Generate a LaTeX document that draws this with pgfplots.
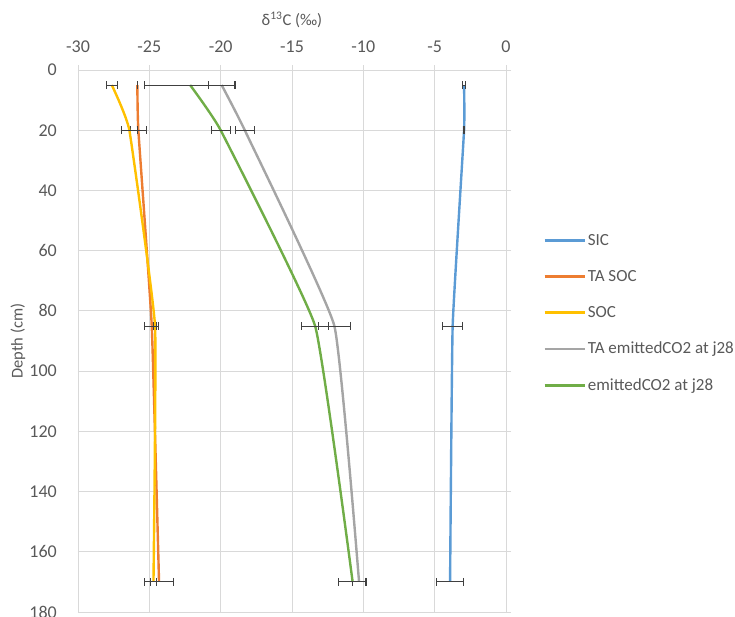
\documentclass[border=0pt]{standalone}
\usepackage{fontspec}
\setmainfont{Carlito}
\usepackage{pgfplots}
\pgfplotsset{compat=1.18}
\definecolor{cSIC}{HTML}{5B9BD5}
\definecolor{cTASOC}{HTML}{ED7D31}
\definecolor{cSOC}{HTML}{FFC000}
\definecolor{cTAE}{HTML}{A5A5A5}
\definecolor{cE}{HTML}{70AD47}
\definecolor{gridc}{HTML}{D9D9D9}
\definecolor{txt}{HTML}{595959}
\begin{document}
\begin{tikzpicture}
\path[use as bounding box] (-78pt,-4pt) rectangle (657pt,612pt);
\begin{axis}[
  scale only axis, width=428pt, height=542pt,
  xmin=-30, xmax=0, ymin=0, ymax=180,
  y dir=reverse,
  xtick={-30,-25,...,0}, ytick={0,20,...,180},
  grid=major, major grid style={gridc, line width=0.8pt},
  axis line style={gridc, line width=0.8pt},
  tick style={gridc, line width=0.8pt},
  major tick length=5pt, tick align=outside,
  xtick pos=top, xticklabel pos=top,
  ytick pos=right, yticklabel pos=left,
  /pgf/number format/assume math mode=true,
  ticklabel style={font=\fontsize{18}{21}\selectfont, text=txt},
  xticklabel style={inner sep=0pt, anchor=south, yshift=12pt},
  yticklabel style={inner sep=0pt, anchor=east, xshift=-16pt},
  xlabel={δ\textsuperscript{13}C (‰)},
  ylabel={Depth (cm)},
  label style={font=\fontsize{16.5}{19}\selectfont, text=txt},
  xlabel style={at={(rel axis cs:0.5,1)}, anchor=center, yshift=50pt},
  ylabel style={at={(rel axis cs:0,0.5)}, anchor=center, rotate=0, yshift=60pt},
  every axis plot/.append style={line width=2.4pt, smooth, tension=0.2},
  error bars/error bar style={black!75, line width=0.9pt, solid},
  error bars/error mark options={black!75, line width=0.9pt, mark size=4pt, rotate=90},
  legend cell align=left,
  legend style={draw=none, fill=none, at={(1.08,0.705)}, anchor=north west,
    font=\fontsize{17}{20}\selectfont, text=txt, row sep=19.5pt,
    /tikz/every even column/.append style={column sep=0pt}},
  legend image code/.code={\draw[#1, line width=2.4pt] (0pt,0pt) -- (40pt,0pt);},
]
\addplot[cSIC, error bars/.cd, x dir=both, x explicit] coordinates {
  (-2.94,5) +- (0.10,0)
  (-2.94,20) +- (0.04,0)
  (-3.74,85) +- (0.70,0)
  (-3.92,170) +- (0.93,0)
};
\addlegendentry{SIC}
\addplot[cTASOC, error bars/.cd, x dir=both, x explicit] coordinates {
  (-25.84,5) +- (0.02,0)
  (-25.77,20) +- (0.58,0)
  (-24.83,85) +- (0.50,0)
  (-24.32,170) +- (1.00,0)
};
\addlegendentry{TA SOC}
\addplot[cSOC, error bars/.cd, x dir=both, x explicit] coordinates {
  (-27.63,5) +- (0.40,0)
  (-26.40,20) +- (0.58,0)
  (-24.60,85) +- (0.10,0)
  (-24.71,170) +- (0.23,0)
};
\addlegendentry{SOC}
\addplot[cTAE, error bars/.cd, x dir=both, x explicit] coordinates {
  (-19.93,5) +- (0.93,0)
  (-18.31,20) +- (0.67,0)
  (-12.03,85) +- (1.11,0)
  (-10.30,170) +- (0.44,0)
};
\addlegendentry{TA emittedCO2 at j28}
\addplot[cE, error bars/.cd, x dir=both, x explicit] coordinates {
  (-22.14,5) +- (3.20,0)
  (-20.00,20) +- (0.67,0)
  (-13.38,85) +- (0.93,0)
  (-10.75,170) +- (1.00,0)
};
\addlegendentry{emittedCO2 at j28}
\end{axis}
\end{tikzpicture}
\end{document}
